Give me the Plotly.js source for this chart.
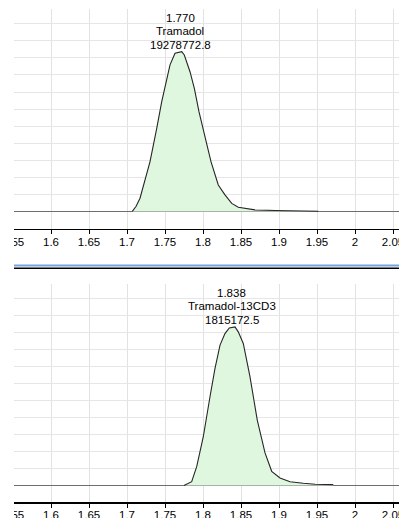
<!DOCTYPE html>
<html>
<head>
<meta charset="utf-8">
<script src="https://cdn.plot.ly/plotly-3.0.1.min.js"></script>
<style>
  html, body { margin: 0; padding: 0; background: #ffffff; }
  #chart { width: 399px; height: 518px; }
</style>
</head>
<body>
<div id="chart"></div>
<script>
// ---- Data ----
// Upper trace: Tramadol, retention time (min) vs relative abundance (% of full scale)
const tramadolTime = [1.7070, 1.7120, 1.7171, 1.7303, 1.7391, 1.7457, 1.7566, 1.7632, 1.7720, 1.7754,
                      1.7829, 1.7886, 1.7947, 1.8026, 1.8105, 1.8201, 1.8289, 1.8378, 1.8464, 1.8684,
                      1.8947, 1.9517];
const tramadolAbund = [0, 3.0, 7.7, 29.2, 48.7, 64.4, 85.9, 92.7, 93.7, 91.7,
                       81.9, 72.2, 58.5, 42.9, 29.2, 15.5, 9.7, 4.7, 2.4, 0.9,
                       0.5, 0.1];
// Lower trace: Tramadol-13CD3
const istdTime = [1.7750, 1.7851, 1.7917, 1.8004, 1.8092, 1.8158, 1.8224, 1.8289, 1.8346, 1.8421,
                  1.8464, 1.8530, 1.8618, 1.8714, 1.8816, 1.8904, 1.9013, 1.9145, 1.9320, 1.9474,
                  1.9714];
const istdAbund = [0, 2.3, 11.1, 28.7, 52.2, 68.8, 82.5, 89.3, 92.6, 93.2,
                   90.3, 83.5, 64.0, 38.5, 19.2, 8.4, 4.5, 2.3, 1.4, 0.8,
                   0.6];

// Peak labels
const peakRT = [1.770, 1.838];
const peakRTLabels = ["1.770", "1.838"];
const peakNames = ["Tramadol", "Tramadol-13CD3"];
const peakAreas = ["19278772.8", "1815172.5"];

// Axis ticks
const tickStart = 1.55;
const tickStep = 0.05;

// ---- Styling / layout ----
const W = 399, H = 518;
const FONT = { family: "'Liberation Sans', Arial, sans-serif", size: 11.5, color: "#000000" };
const fillGreen = "#dff7df";

function peakTrace(x, y, xa, ya) {
  return {
    type: "scatter", mode: "lines", x: x, y: y, xaxis: xa, yaxis: ya,
    fill: "tozeroy", fillcolor: fillGreen,
    line: { color: "#262626", width: 1.1 },
    hoverinfo: "skip"
  };
}

const traces = [
  peakTrace(tramadolTime, tramadolAbund, "x", "y"),
  peakTrace(istdTime, istdAbund, "x2", "y2")
];

const xRange = [1.6 - 51 / 760, 1.6 + 348 / 760];

function xAxis(anchor) {
  return {
    anchor: anchor, domain: [0, 1], range: xRange,
    tick0: tickStart, dtick: tickStep,
    showgrid: true, gridcolor: "#e2e2e2", gridwidth: 1,
    zeroline: false,
    showline: true, linecolor: "#000000", linewidth: 1.2,
    ticks: "outside", ticklen: 4, tickcolor: "#000000", tickwidth: 1,
    tickfont: FONT, ticklabeloverflow: "allow", ticklabelstandoff: -2,
    fixedrange: true
  };
}
function yAxis(anchor, domain, range) {
  return {
    anchor: anchor, domain: domain, range: range,
    tick0: 0, dtick: 10,
    showgrid: true, gridcolor: "#e6e6e6", gridwidth: 1,
    zeroline: true, zerolinecolor: "#6e6e6e", zerolinewidth: 1.3,
    showticklabels: false, ticks: "", showline: false, fixedrange: true
  };
}

const annotations = [];
const peaks = [
  { abund: tramadolAbund, xref: "x", yref: "y", i: 0 },
  { abund: istdAbund, xref: "x2", yref: "y2", i: 1 }
];
peaks.forEach(p => {
  const top = Math.max(...p.abund);
  const lines = [peakRTLabels[p.i], peakNames[p.i], peakAreas[p.i]];
  const shifts = [34, 20.5, 7];
  lines.forEach((t, k) => {
    annotations.push({
      x: peakRT[p.i], y: top, xref: p.xref, yref: p.yref,
      text: t, showarrow: false, xanchor: "center", yanchor: "middle",
      yshift: shifts[k], font: FONT
    });
  });
});

const leftPx = 14 / W;
const shapes = [
  // white mask left of the plot frame (clips the partial first tick label)
  { type: "rect", xref: "paper", yref: "paper", x0: 0, x1: leftPx, y0: 0, y1: 1,
    fillcolor: "#ffffff", line: { width: 0 }, layer: "above" },
  // pane separator: light blue over black
  { type: "line", xref: "paper", yref: "paper", x0: leftPx, x1: 1,
    y0: 1 - 265.6 / H, y1: 1 - 265.6 / H, line: { color: "#73a3e3", width: 2 }, layer: "above" },
  { type: "line", xref: "paper", yref: "paper", x0: leftPx, x1: 1,
    y0: 1 - 268.2 / H, y1: 1 - 268.2 / H, line: { color: "#000000", width: 1.4 }, layer: "above" }
];

const layout = {
  width: W, height: H,
  margin: { l: 0, r: 0, t: 0, b: 0, pad: 0 },
  paper_bgcolor: "#ffffff", plot_bgcolor: "#ffffff",
  showlegend: false,
  font: FONT,
  xaxis: xAxis("y"),
  yaxis: yAxis("x", [1 - 228.8 / H, 1 - 9.3 / H], [-10.2, 118.5]),
  xaxis2: xAxis("y2"),
  yaxis2: yAxis("x2", [1 - 502.3 / H, 1 - 284 / H], [-9.8, 118.4]),
  annotations: annotations,
  shapes: shapes
};

Plotly.newPlot("chart", traces, layout, { staticPlot: true, displayModeBar: false });
</script>
</body>
</html>
